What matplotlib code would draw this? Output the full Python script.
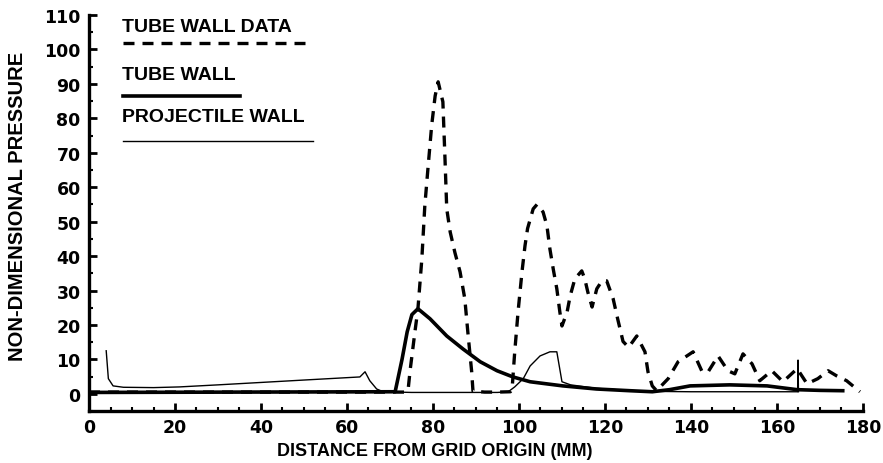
import matplotlib
matplotlib.use("Agg")
import matplotlib.pyplot as plt
from matplotlib.lines import Line2D
from matplotlib.ticker import MultipleLocator

# ------------------------------------------------------------------
# Pressure along the tube and projectile walls
# ------------------------------------------------------------------
# tube wall measurements (dashed)
dados_x = [0, 10, 20, 30, 40, 50, 60, 70, 73.5, 74.2, 74.7, 75.8, 76.5, 77.4,
           78.1, 78.8, 79.7, 80.5, 81.2, 82.3, 82.8, 83.2, 84, 85.1, 86.3,
           87.4, 88.1, 89, 89.3, 92, 95, 98, 98.4, 99, 99.8, 100.7, 101.4,
           102, 103.3, 104.2, 105.6, 106.5, 107.2, 108, 108.8, 109.5, 110,
           111.2, 111.9, 113, 114.6, 115.3, 116, 117, 118.1, 119.3, 120.4,
           121.9, 123, 124.2, 125.5, 127.4, 129.3, 130, 131, 132, 134.7, 137,
           140.5, 142.6, 144, 146.3, 148.6, 150.2, 152.1, 154.2, 156, 158.8,
           161.4, 164.7, 167, 169.5, 171.9, 173.9, 176.2, 179.3]
dados_y = [0.5, 0.5, 0.5, 0.5, 0.5, 0.5, 0.5, 0.5, 0.5, 1.0, 7, 18, 24.7, 39,
           54.6, 65, 78, 86.5, 90.6, 84.8, 68, 53.7, 47, 41, 35.4,
           27.6, 18, 6.4, 0.8, 0.5, 0.5, 0.6, 1.4, 12, 24, 35.4, 43,
           48, 53.7, 55, 52.8, 48.8, 42, 36, 30.5, 23.8, 19.7,
           23.8, 28.4, 33.4, 35.7, 33.4, 29.6, 25.2, 30.5, 32.8, 32.8,
           27.6, 21.5, 15.2, 13.5, 16.8, 12.2, 6.4, 2.3, 0.9, 4.4, 9.3,
           12.2, 6.4, 6.4, 11, 6.7, 5.8, 11.6, 8.7, 3.8, 6.7,
           3.5, 7.3, 2.9, 4.4, 6.7, 5.2, 3.8, 0.6]

# tube wall, computed (thick solid)
tubo_x = [0, 71.2, 72.8, 74, 75.1, 76.5, 79.3, 83.2, 87, 91, 94.9, 98.6,
          102.6, 110.2, 118, 125.8, 131, 135, 139.8, 149, 157.7, 164.7,
          170, 175.3]
tubo_y = [0.4, 0.6, 10, 18, 23, 24.7, 21.8, 16.8, 13, 9.3, 6.7, 4.9,
          3.5, 2.3, 1.4, 0.9, 0.6, 1.2, 2.3, 2.6, 2.3, 1.2,
          1.0, 0.9]

# projectile wall, computed (thin solid)
proj_x = [4, 4.5, 5.6, 8, 15, 21, 30, 40, 50, 63, 64.2, 65.3, 66.9, 68.4,
          75, 85, 95, 97.5, 99, 101, 102.6, 104.9, 107.2, 108.8, 110, 112,
          118, 125, 132, 140, 150, 160, 164.8, 164.9, 165.0]
proj_y = [12.5, 4.4, 2.3, 1.9, 1.8, 2.0, 2.6, 3.3, 4.0, 4.9, 6.4, 3.8, 1.4,
          0.6, 0.4, 0.4, 0.4, 0.6, 2, 4.4, 8.1, 11, 12.2, 12.2, 3.5, 2.6,
          1.6, 1.0, 0.7, 0.6, 0.6, 0.6, 0.6, 9.8, 0.6]

rotulos = ["TUBE WALL DATA", "TUBE WALL", "PROJECTILE WALL"]

TRACO = (0, (3.3, 2.4))
FONTE = "Liberation Sans"

fig = plt.figure(figsize=(8.83, 4.64), dpi=100)
ax = fig.add_axes([0.1008, 0.112, 0.8765, 0.8535])

ax.plot(dados_x, dados_y, color="black", lw=2.4, ls=TRACO)
ax.plot(tubo_x, tubo_y, color="black", lw=2.6)
ax.plot(proj_x, proj_y, color="black", lw=1.0)

ax.set_xlim(0, 180)
ax.set_ylim(-5, 110)
ax.xaxis.set_major_locator(MultipleLocator(20))
ax.xaxis.set_minor_locator(MultipleLocator(5))
ax.yaxis.set_major_locator(MultipleLocator(10))
ax.yaxis.set_minor_locator(MultipleLocator(5))
ax.set_yticks(range(0, 111, 10))

for lado in ["top", "right"]:
    ax.spines[lado].set_visible(False)
for lado in ["left", "bottom"]:
    ax.spines[lado].set_linewidth(2.4)

ax.tick_params(which="major", direction="in", length=6, width=2.0)
ax.tick_params(which="minor", direction="in", length=3, width=1.5)
ax.tick_params(axis="x", pad=5)
ax.tick_params(axis="y", pad=6)
for lbl in ax.get_xticklabels() + ax.get_yticklabels():
    lbl.set_fontfamily("DejaVu Sans")
    lbl.set_fontweight("bold")
    lbl.set_fontsize(12.5)

ax.set_xlabel("DISTANCE FROM GRID ORIGIN (MM)", fontfamily=FONTE,
              fontweight="bold", fontsize=13)
ax.set_ylabel("NON-DIMENSIONAL PRESSURE", fontfamily=FONTE,
              fontweight="bold", fontsize=14.5)
ax.xaxis.set_label_coords(0.447, -0.078)
ax.yaxis.set_label_coords(-0.080, 0.52)

# legend: label text with its line drawn underneath
estilos = [dict(lw=2.4, ls=TRACO), dict(lw=2.6, ls="-"), dict(lw=1.0, ls="-")]
texto_y = [0.940, 0.838, 0.746]
linha_y = [0.905, 0.791, 0.694]
linha_fim = [0.351, 0.272, 0.354]
for rot, est, ty, ly, xf in zip(rotulos, estilos, texto_y, linha_y, linha_fim):
    fig.text(0.138, ty, rot, fontfamily=FONTE, fontweight="bold",
             fontsize=14, va="center", ha="left")
    fig.add_artist(Line2D([0.139, xf], [ly, ly], transform=fig.transFigure,
                          color="black", **est))

fig.savefig("out.png", dpi=100)
